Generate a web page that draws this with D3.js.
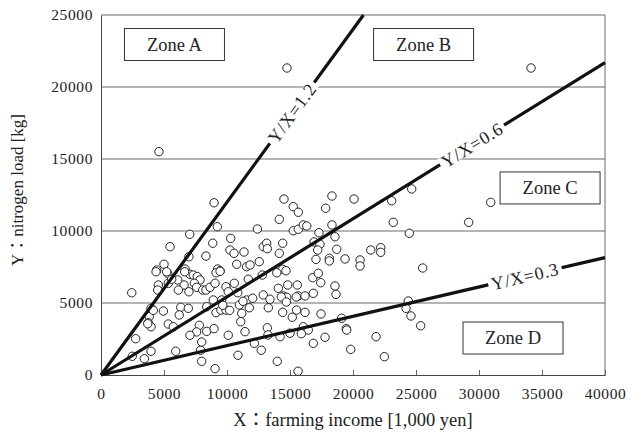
<!DOCTYPE html>
<html>
<head>
<meta charset="utf-8">
<script src="https://cdn.jsdelivr.net/npm/d3@7"></script>
<style>
  body { margin: 0; background: #fff; }
  text { font-family: "Liberation Serif", "Times New Roman", "Noto Sans CJK JP", serif; fill: #222; }
</style>
</head>
<body>
<svg id="chart" width="632" height="442"></svg>
<script>
// farming income X [1,000 yen] and nitrogen load Y [kg], one entry per farm
const incomeX = [
  4600, 14760, 34130, 8970, 14520, 15260, 15660, 18330, 17830, 14150,
  18330, 9230, 12410, 7040, 5480, 15260, 15660, 16060, 16330, 17300,
  18570, 16910, 17380, 17200, 18710, 17060, 18120, 18120, 19370, 8870,
  8330, 10290, 10240, 10560, 11350, 10770, 11560, 11830, 12560, 12880,
  13150, 13200, 14150, 14420, 14420, 14680, 12800, 13950, 11690, 10580,
  9920, 10100, 10850, 9260, 9450, 9130, 6980, 6670, 7060, 7330,
  7640, 7860, 7410, 6590, 6090, 6140, 6980, 7590, 8070, 8330,
  8650, 9050, 4420, 5000, 5290, 4550, 4500, 5340, 5610, 2440,
  3970, 4950, 3830, 3750, 3970, 5340, 5740, 6330, 6210, 6930,
  8390, 9130, 9520, 9920, 8910, 9580, 10980, 11170, 11090, 11560,
  12040, 11770, 11430, 12880, 13410, 13280, 14070, 14470, 14740, 14820,
  15580, 15660, 16190, 16800, 17250, 17440, 16850, 18570, 18650, 14420,
  15180, 15530, 16190, 17460, 16060, 16450, 15000, 14210, 13200, 13250,
  16850, 17780, 19100, 19820, 12170, 12720, 13990, 15640, 10870, 9050,
  7990, 7910, 7990, 7800, 7590, 7060, 8390, 8970, 10100, 5930,
  3970, 3440, 2480, 2750, 4150, 3710, 9660, 11270, 14310, 14710,
  15500, 10210, 15900, 19470, 20080, 23070, 24660, 30930, 23200, 29180,
  24470, 20560, 20560, 21410, 22200, 22200, 25530, 24390, 24210, 24600,
  25370, 19500, 21830, 22490, 4370, 5210, 6640, 9450
];
const loadY = [
  15510, 21320, 21320, 11960, 12220, 11690, 11300, 12430, 11580, 10810,
  10420, 10300, 10140, 9770, 8910, 10020, 10120, 10420, 10350, 9880,
  9600, 9240, 9080, 8680, 8730, 8030, 8100, 7920, 8060, 9150,
  8260, 9490, 8680, 8450, 8540, 7690, 7520, 7640, 7870, 8910,
  9150, 8770, 8450, 9150, 7340, 7240, 6940, 7100, 6650, 6370,
  6130, 5780, 5710, 7360, 7240, 7100, 8210, 7360, 6990, 6940,
  6830, 6600, 6370, 6250, 6600, 5900, 5780, 6090, 5900, 5900,
  6090, 6370, 7290, 7690, 7060, 6250, 5900, 6370, 6650, 5710,
  4630, 4440, 4050, 3630, 3350, 3540, 3350, 4700, 4170, 4630,
  4740, 4330, 4510, 4510, 5210, 5210, 4860, 4280, 3700, 5210,
  5330, 4670, 3010, 5560, 5260, 4670, 6020, 5490, 5400, 6250,
  6250, 5490, 5490, 6760, 7060, 6410, 5670, 6180, 5600, 4350,
  4010, 4510, 4350, 4240, 3350, 3120, 2900, 2660, 3280, 2780,
  2200, 2620, 3940, 1780, 2200, 1720, 950, 260, 1370, 440,
  950, 1720, 2290, 3450, 2990, 2760, 3030, 3220, 2760, 1650,
  1650, 1130, 1300, 2520, 4490, 3560, 4840, 5120, 5420, 5070,
  5420, 4490, 2870, 3220, 12220, 12100, 12920, 11990, 10600, 10600,
  9840, 7990, 7570, 8680, 8840, 8520, 7430, 5140, 4630, 4100,
  3420, 3120, 2660, 1270, 7170, 7170, 7170, 7200
];

// reference lines: label, end point of the drawn line and where the label sits (X)
const ratioLabels = ["Y/X=1.2", "Y/X=0.6", "Y/X=0.3"];
const ratioEndX = [20830, 40000, 40000];
const ratioEndY = [25000, 21700, 8150];
const ratioLabelX = [15160, 29450, 33650];

// zone captions and the centre of their boxes (data units)
const zoneLabels = ["Zone A", "Zone B", "Zone C", "Zone D"];
const zoneX = [5830, 25600, 35640, 32700];
const zoneY = [22950, 22950, 12990, 2570];

const xTicks = [0, 5000, 10000, 15000, 20000, 25000, 30000, 35000, 40000];
const yTicks = [0, 5000, 10000, 15000, 20000, 25000];

const margin = { top: 15, right: 27, bottom: 67, left: 101 };
const width = 632 - margin.left - margin.right;
const height = 442 - margin.top - margin.bottom;

const svg = d3.select("#chart");
const g = svg.append("g").attr("transform", `translate(${margin.left},${margin.top})`);

const x = d3.scaleLinear().domain([0, 40000]).range([0, width]);
const y = d3.scaleLinear().domain([0, 25000]).range([height, 0]);

// horizontal grid
g.append("g")
  .selectAll("line")
  .data(yTicks.filter(d => d > 0))
  .join("line")
  .attr("x1", 0).attr("x2", width)
  .attr("y1", d => y(d)).attr("y2", d => y(d))
  .attr("stroke", "#6b6b6b").attr("stroke-width", 1);

// right frame
g.append("line")
  .attr("x1", width).attr("x2", width).attr("y1", 0).attr("y2", height)
  .attr("stroke", "#6b6b6b");

// axes
const xAxis = g.append("g")
  .attr("transform", `translate(0,${height})`)
  .call(d3.axisBottom(x).tickValues(xTicks).tickSize(-5).tickPadding(13).tickFormat(d3.format("d")));
const yAxis = g.append("g")
  .call(d3.axisLeft(y).tickValues(yTicks).tickSize(0).tickPadding(8).tickFormat(d3.format("d")));

[xAxis, yAxis].forEach(a => {
  a.select(".domain").attr("stroke", "#444");
  a.selectAll(".tick line").attr("stroke", "#666");
  a.selectAll("text").style("font-size", "15.5px").attr("fill", "#222")
    .style("letter-spacing", "0.6px");
});
xAxis.selectAll(".tick").filter(d => d === 0).select("line").remove();

// scatter points
const points = incomeX.map((v, i) => ({ x: v, y: loadY[i] }));
g.append("g")
  .selectAll("circle")
  .data(points)
  .join("circle")
  .attr("cx", d => x(d.x))
  .attr("cy", d => y(d.y))
  .attr("r", 4.2)
  .attr("fill", "#fff")
  .attr("stroke", "#222")
  .attr("stroke-width", 1);

// ratio lines with labels cut into them
const ratios = ratioLabels.map((lab, i) => ({
  label: lab, x2: ratioEndX[i], y2: ratioEndY[i], lx: ratioLabelX[i]
}));
g.append("g")
  .selectAll("line")
  .data(ratios)
  .join("line")
  .attr("x1", x(0)).attr("y1", y(0))
  .attr("x2", d => x(d.x2)).attr("y2", d => y(d.y2))
  .attr("stroke", "#111").attr("stroke-width", 3.2);

ratios.forEach(d => {
  const px = x(d.lx);
  const py = y(d.lx * d.y2 / d.x2);
  const angle = Math.atan2(y(d.y2) - y(0), x(d.x2) - x(0)) * 180 / Math.PI;
  const lg = g.append("g").attr("transform", `translate(${px},${py}) rotate(${angle})`);
  const t = lg.append("text")
    .attr("text-anchor", "middle")
    .attr("dy", "0.35em")
    .style("font-size", "18px")
    .style("letter-spacing", "0.8px")
    .text(d.label);
  const w = t.node().getComputedTextLength();
  lg.insert("rect", "text")
    .attr("x", -w / 2 - 3).attr("y", -6)
    .attr("width", w + 6).attr("height", 12)
    .attr("fill", "#fff");
});

// zone boxes
const zones = zoneLabels.map((lab, i) => ({ label: lab, x: zoneX[i], y: zoneY[i] }));
const zg = g.append("g")
  .selectAll("g")
  .data(zones)
  .join("g")
  .attr("transform", d => `translate(${x(d.x)},${y(d.y)})`);
zg.append("rect")
  .attr("x", -50).attr("y", -16)
  .attr("width", 100).attr("height", 32)
  .attr("fill", "#fff").attr("stroke", "#333").attr("stroke-width", 1);
zg.append("text")
  .attr("text-anchor", "middle")
  .attr("dy", "0.35em")
  .style("font-size", "18.5px")
  .text(d => d.label);

// axis titles
svg.append("text")
  .attr("x", margin.left + width / 2)
  .attr("y", 426)
  .attr("text-anchor", "middle")
  .style("font-size", "18.5px")
  .text("X：farming income [1,000 yen]");

svg.append("text")
  .attr("transform", `translate(23,190) rotate(-90)`)
  .attr("text-anchor", "middle")
  .style("font-size", "17px")
  .text("Y：nitrogen load [kg]");
</script>
</body>
</html>
